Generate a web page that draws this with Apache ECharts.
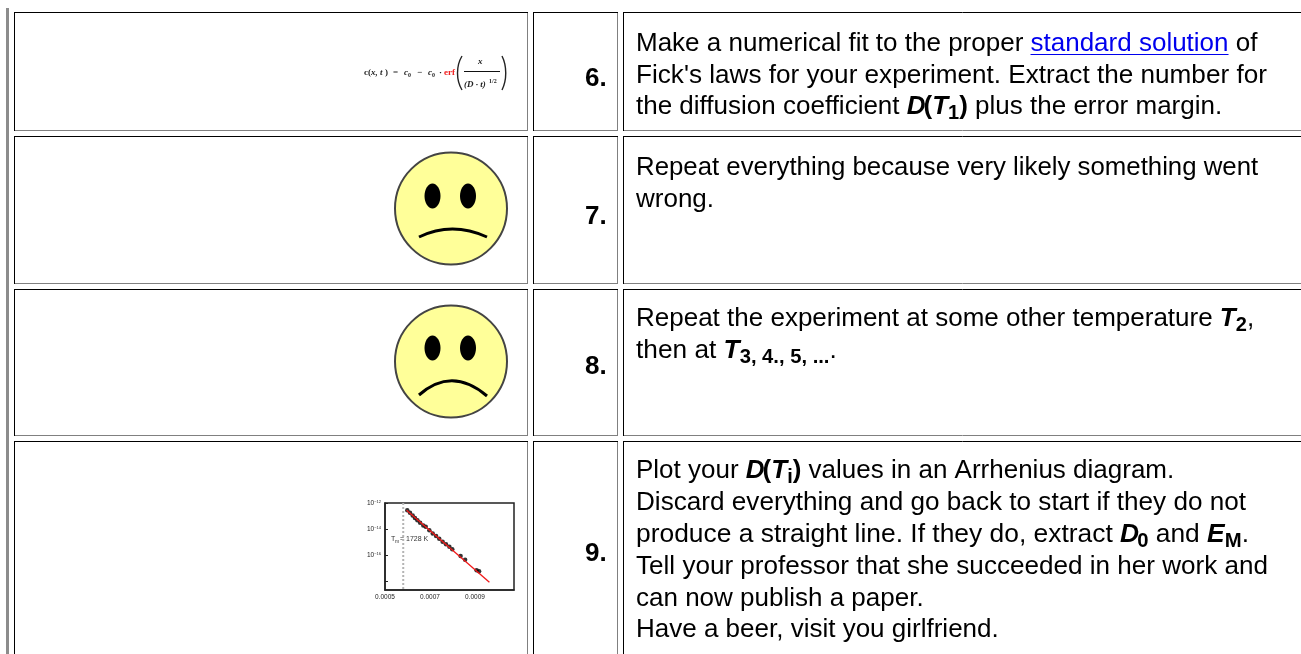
<!DOCTYPE html>
<html>
<head>
<meta charset="utf-8">
<style>
html, body { margin: 0; padding: 0; background: #fff; overflow: hidden; }
#container { width: 1301px; height: 654px; }
</style>
<script src="https://cdn.jsdelivr.net/npm/echarts@6/dist/echarts.min.js"></script>
</head>
<body>
<div id="container"></div>
<script>
// table content
var stepLabels = ['6.', '7.', '8.', '9.'];
var stepLines6 = [
    ['Make a numerical fit to the proper ', '[standard solution', ' of'],
    ["Fick's laws for your experiment. Extract the number for"],
    ['the diffusion coefficient ', '*D', '#(', '*T', '_1', '#)', ' plus the error margin.']
];
var stepLines7 = [
    ['Repeat everything because very likely something went'],
    ['wrong.']
];
var stepLines8 = [
    ['Repeat the experiment at some other temperature ', '*T', '_2', ','],
    ['then at ', '*T', '_3, 4., 5, ...', '.']
];
var stepLines9 = [
    ['Plot your ', '*D', '#(', '*T', '_i', '#)', ' values in an Arrhenius diagram.'],
    ['Discard everything and go back to start if they do not'],
    ['produce a straight line. If they do, extract ', '*D', '_0', ' and ', '*E', '_M', '.'],
    ['Tell your professor that she succeeded in her work and'],
    ['can now publish a paper.'],
    ['Have a beer, visit you girlfriend.']
];

// values: 1/T and log10(D)
var inverseT = [0.000599, 0.000611, 0.000623, 0.000633, 0.000644, 0.000656, 0.000670, 0.000681, 0.000697, 0.000712,
    0.000727, 0.000741, 0.000756, 0.000771, 0.000786, 0.000799, 0.000836, 0.000856, 0.000907, 0.000918];
var logD = [-12.56, -12.76, -12.97, -13.15, -13.32, -13.53, -13.73, -13.83, -14.09, -14.34,
    -14.55, -14.75, -14.98, -15.18, -15.36, -15.57, -16.08, -16.38, -17.17, -17.25];
var fitLine = [[0.000596, -12.56], [0.000964, -18.11]];
var meltLine = [[0.000581, -12.0], [0.000581, -18.7]];
var xTicks = [0.0005, 0.0007, 0.0009];
var yTicks = [-12, -14, -16, -18];
var yLabelled = [-12, -14, -16];

// layout of the table
var rowTops = [12, 136, 289, 441];
var rowBottoms = [130, 283, 435, 700];
var colLefts = [14, 533, 623];
var colRights = [527, 617, 1400];
var labelY = [79, 217, 367, 554];
var textBaselines = [
    [53, 85, 116],
    [177, 209],
    [328, 360],
    [480, 512, 544, 576, 608, 639]
];
// the browser's hinted text runs slightly wider or narrower than canvas text
var lineStretch = [
    [1, 1.005, 1],
    [0.992, 1],
    [1, 1.01],
    [1, 1.005, 1.015, 1.003, 1, 1]
];

var FONT = '"Liberation Sans", Arial, sans-serif';
var SIZE = 26;
var measure = document.createElement('canvas').getContext('2d');
var graphics = [];

function textWidth(text, font) {
    measure.font = font;
    return measure.measureText(text).width;
}

// places text so that y is the alphabetic baseline
function putText(text, x, y, size, weight, fontStyle, color, family, stretch) {
    graphics.push({
        type: 'text',
        silent: true,
        x: x,
        y: y - size * 0.3465,
        scaleX: stretch || 1,
        style: {
            text: text,
            x: 0,
            y: 0,
            fill: color || '#000',
            font: fontStyle + ' ' + weight + ' ' + size + 'px ' + (family || FONT),
            textAlign: 'left',
            verticalAlign: 'middle'
        }
    });
}

function putLine(x, y, segments, stretch) {
    segments.forEach(function (seg) {
        var mark = seg.charAt(0);
        var body = seg;
        var size = SIZE, weight = 'normal', fontStyle = 'normal', color = '#000', dy = 0, adj = 0;
        if (mark === '*') {
            body = seg.slice(1); weight = 'bold'; fontStyle = 'italic';
            if (body === 'D') adj = -2;
        } else if (mark === '#') {
            body = seg.slice(1); weight = 'bold';
        } else if (mark === '_') {
            body = seg.slice(1); weight = 'bold'; size = 20; dy = 4;
        } else if (mark === '[') {
            body = seg.slice(1); color = '#0000ee';
        }
        putText(body, x, y + dy, size, weight, fontStyle, color, null, stretch);
        var w = textWidth(body, fontStyle + ' ' + weight + ' ' + size + 'px ' + FONT) * stretch;
        if (mark === '[') {
            graphics.push({
                type: 'line', silent: true,
                shape: { x1: x, y1: y + 1.5, x2: x + w, y2: y + 1.5 },
                style: { stroke: '#0000ee', lineWidth: 1 }
            });
        }
        x += w + adj;
    });
}

function hLine(x1, x2, y, color) {
    graphics.push({ type: 'line', silent: true, shape: { x1: x1, y1: y + 0.5, x2: x2, y2: y + 0.5 }, style: { stroke: color, lineWidth: 1 } });
}
function vLine(x, y1, y2, color) {
    graphics.push({ type: 'line', silent: true, shape: { x1: x + 0.5, y1: y1, x2: x + 0.5, y2: y2 }, style: { stroke: color, lineWidth: 1 } });
}

// page rule on the left
graphics.push({ type: 'rect', silent: true, shape: { x: 6, y: 8, width: 3, height: 660 }, style: { fill: '#8c8c8c' } });

// cell frames, dark top/left and grey bottom/right
rowTops.forEach(function (top, r) {
    colLefts.forEach(function (left, c) {
        var right = colRights[c], bottom = rowBottoms[r];
        hLine(left, right + 1, bottom, '#808080');
        vLine(right, top, bottom + 1, '#808080');
        hLine(left, right + 1, top, '#000');
        vLine(left, top, bottom + 1, '#000');
    });
});

// step numbers and text
stepLabels.forEach(function (label, i) {
    putText(label, 585, labelY[i] + 9, SIZE, 'bold', 'normal');
});
[stepLines6, stepLines7, stepLines8, stepLines9].forEach(function (lines, r) {
    lines.forEach(function (line, i) {
        putLine(636, textBaselines[r][i], line, lineStretch[r][i]);
    });
});

// formula picture in step 6
var SERIF = '"Liberation Serif", serif';
putText('c(', 364, 76, 9, 'bold', 'normal', '#222', SERIF);
putText('x, t', 371, 76, 9, 'bold', 'italic', '#222', SERIF);
putText(')', 385, 76, 9, 'bold', 'normal', '#222', SERIF);
putText('=', 393, 76, 9, 'bold', 'normal', '#222', SERIF);
putText('c', 404, 76, 9, 'bold', 'italic', '#222', SERIF);
putText('0', 408, 78, 6, 'bold', 'normal', '#222', SERIF);
putText('\u2212', 417, 76, 9, 'bold', 'normal', '#222', SERIF);
putText('c', 428, 76, 9, 'bold', 'italic', '#222', SERIF);
putText('0', 432, 78, 6, 'bold', 'normal', '#222', SERIF);
putText('\u00b7', 439, 76, 9, 'bold', 'normal', '#222', SERIF);
putText('erf', 444, 76, 9, 'bold', 'normal', '#f02020', SERIF);
putText('x', 478, 65, 9, 'bold', 'italic', '#222', SERIF);
putText('(D \u00b7 t)', 464, 88, 9, 'bold', 'italic', '#222', SERIF);
putText('1/2', 489, 84, 6, 'bold', 'normal', '#222', SERIF);
graphics.push({ type: 'line', silent: true, shape: { x1: 464, y1: 71.5, x2: 500, y2: 71.5 }, style: { stroke: '#111', lineWidth: 1 } });
graphics.push({ type: 'bezierCurve', silent: true, shape: { x1: 462, y1: 56, cpx1: 456, cpy1: 66, cpx2: 456, cpy2: 80, x2: 462, y2: 90 }, style: { stroke: '#222', lineWidth: 1.4, fill: 'none' } });
graphics.push({ type: 'bezierCurve', silent: true, shape: { x1: 502, y1: 56, cpx1: 507, cpy1: 66, cpx2: 507, cpy2: 80, x2: 502, y2: 90 }, style: { stroke: '#222', lineWidth: 1.4, fill: 'none' } });

// sad faces in steps 7 and 8
function face(cy, eyeY, mouth) {
    graphics.push({ type: 'circle', silent: true, shape: { cx: 451, cy: cy, r: 56 }, style: { fill: '#ffff99', stroke: '#444', lineWidth: 2 } });
    [432.5, 468].forEach(function (ex) {
        graphics.push({ type: 'ellipse', silent: true, shape: { cx: ex, cy: eyeY, rx: 8, ry: 12.5 }, style: { fill: '#000' } });
    });
    graphics.push({ type: 'bezierCurve', silent: true, shape: mouth, style: { stroke: '#000', lineWidth: 3, fill: 'none' } });
}
face(208.5, 196, { x1: 419, y1: 237, cpx1: 452, cpy1: 221, x2: 487, y2: 237 });
face(361.5, 348, { x1: 419, y1: 395, cpx1: 452, cpy1: 366, x2: 487, y2: 396 });

// label inside the small plot
putText('T', 391, 541, 7, 'normal', 'normal', '#333');
putText('m', 395, 543, 5, 'normal', 'normal', '#333');
putText('= 1728 K', 400, 541, 7, 'normal', 'normal', '#333');

var myChart = echarts.init(document.getElementById('container'), null, { renderer: 'canvas' });

myChart.setOption({
    animation: false,
    backgroundColor: '#fff',
    grid: { left: 385, top: 503, width: 129, height: 87, show: true, borderColor: '#222', borderWidth: 1.5 },
    xAxis: {
        type: 'value',
        min: 0.0005,
        max: 0.0010733,
        splitLine: { show: false },
        axisLine: { lineStyle: { color: '#222', width: 1.5 } },
        axisTick: { show: false },
        axisLabel: {
            customValues: xTicks,
            fontSize: 6.5, color: '#222', margin: 4, fontFamily: FONT,
            formatter: function (v) { return v.toFixed(4); }
        }
    },
    yAxis: {
        type: 'value',
        min: -18.7,
        max: -12,
        splitLine: { show: false },
        axisLine: { onZero: false, lineStyle: { color: '#222', width: 1.5 } },
        axisTick: { inside: true, length: 3, customValues: yTicks, lineStyle: { color: '#222' } },
        axisLabel: {
            customValues: yLabelled,
            margin: 4, color: '#222', fontFamily: FONT,
            formatter: function (v) { return '{b|10}{s|' + String(v).replace('-', '\u2212') + '}'; },
            rich: {
                b: { fontSize: 6.5, color: '#222' },
                s: { fontSize: 4, color: '#222', verticalAlign: 'top' }
            }
        }
    },
    graphic: { elements: graphics },
    series: [
        {
            type: 'line', data: meltLine, showSymbol: false, silent: true,
            lineStyle: { color: '#b4b4b4', width: 2, type: 'dotted' }
        },
        {
            type: 'scatter', data: inverseT.map(function (x, i) { return [x, logD[i]]; }),
            symbolSize: 4.5, itemStyle: { color: '#000' }, silent: true
        },
        {
            type: 'line', data: fitLine, showSymbol: false, silent: true,
            lineStyle: { color: '#f01818', width: 1.3 }
        }
    ]
});

window.addEventListener('resize', function () {
    myChart.resize();
});
</script>
</body>
</html>
